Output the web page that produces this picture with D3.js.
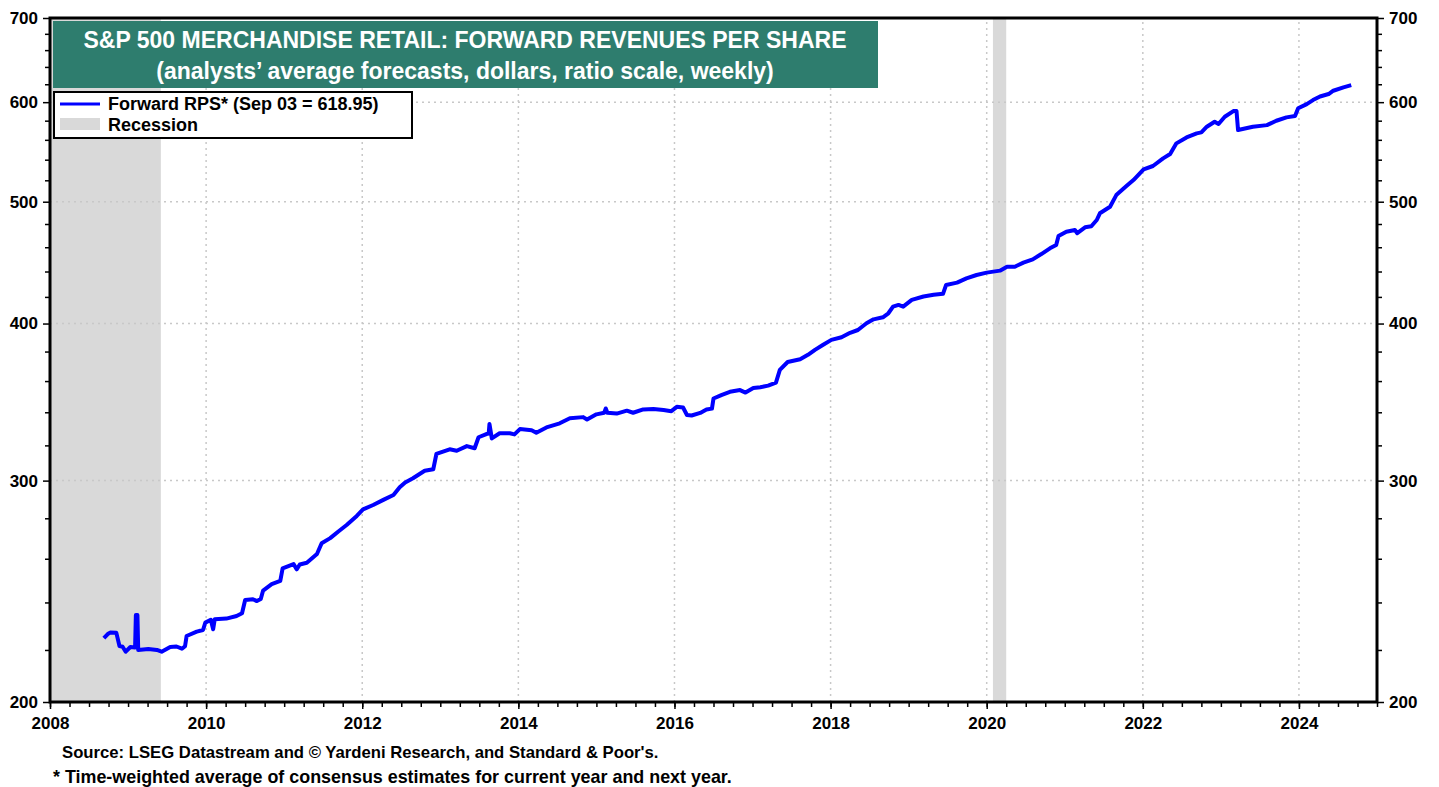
<!DOCTYPE html>
<html>
<head>
<meta charset="utf-8">
<script src="https://cdn.jsdelivr.net/npm/d3@7"></script>
<style>
  body { margin: 0; background: #fff; }
  svg text { font-family: "Liberation Sans", Arial, sans-serif; font-weight: bold; }
</style>
</head>
<body>
<div id="chart"></div>
<script>
// weekly series (decimal year, dollars)
const years = [2008.69,2008.74,2008.77,2008.85,2008.89,2008.93,2008.97,2009.03,2009.09,2009.10,2009.12,2009.13,2009.26,2009.37,2009.43,2009.54,2009.62,2009.69,2009.73,2009.75,2009.88,2009.96,2009.99,2010.06,2010.09,2010.11,2010.26,2010.39,2010.46,2010.50,2010.60,2010.65,2010.70,2010.73,2010.84,2010.95,2010.98,2011.12,2011.16,2011.20,2011.29,2011.42,2011.48,2011.59,2011.69,2011.80,2011.93,2012.01,2012.14,2012.27,2012.40,2012.48,2012.55,2012.65,2012.80,2012.91,2012.95,2013.12,2013.21,2013.34,2013.44,2013.49,2013.59,2013.62,2013.63,2013.66,2013.76,2013.89,2013.95,2014.02,2014.17,2014.23,2014.36,2014.53,2014.66,2014.83,2014.88,2015.00,2015.10,2015.12,2015.14,2015.26,2015.39,2015.47,2015.60,2015.73,2015.86,2015.96,2016.03,2016.11,2016.16,2016.22,2016.33,2016.41,2016.48,2016.50,2016.60,2016.71,2016.84,2016.91,2017.01,2017.10,2017.20,2017.30,2017.35,2017.45,2017.61,2017.71,2017.80,2017.90,2018.01,2018.14,2018.25,2018.35,2018.46,2018.55,2018.67,2018.74,2018.80,2018.87,2018.93,2019.04,2019.19,2019.32,2019.44,2019.48,2019.62,2019.74,2019.87,2020.00,2020.17,2020.26,2020.36,2020.47,2020.59,2020.70,2020.81,2020.89,2020.92,2021.02,2021.13,2021.16,2021.26,2021.34,2021.41,2021.45,2021.58,2021.66,2021.79,2021.88,2022.01,2022.13,2022.26,2022.35,2022.43,2022.56,2022.69,2022.75,2022.82,2022.92,2022.97,2023.05,2023.16,2023.20,2023.22,2023.41,2023.59,2023.71,2023.84,2023.95,2023.99,2024.10,2024.18,2024.27,2024.38,2024.44,2024.57,2024.67];
const rps = [224.8,226.5,227.1,227.0,221.6,221.3,219.3,221.2,221.0,234.5,234.5,220.0,220.4,220.0,219.3,221.2,221.4,220.5,221.5,225.7,227.5,228.2,231.3,232.5,228.5,232.7,233.0,234.1,235.3,241.1,241.4,240.6,241.5,245.3,248.2,249.7,255.5,257.5,255.0,257.3,258.1,262.3,267.5,270.0,273.2,276.6,281.2,284.6,286.9,289.6,292.2,296.4,299.0,301.3,305.5,306.3,315.0,317.7,316.9,319.6,318.3,324.8,326.7,327.0,332.8,324.1,327.2,327.2,326.5,329.7,329.0,327.5,330.7,333.2,336.3,337.0,335.5,338.7,339.7,342.4,339.7,339.2,341.0,339.7,341.8,342.0,341.4,340.7,343.4,343.0,338.3,338.0,339.6,341.7,342.3,348.7,350.9,353.0,354.1,352.5,355.4,356.0,357.0,359.0,367.4,372.8,374.7,377.7,381.2,384.6,388.2,390.1,393.3,395.3,400.2,403.1,404.6,407.6,412.6,413.9,412.6,417.7,420.3,421.6,422.4,429.3,431.1,434.5,437.2,439.1,440.7,443.9,443.9,447.2,449.9,454.3,459.1,461.9,469.5,473.3,474.7,472.0,477.1,478.0,483.5,489.5,495.4,506.1,514.5,520.2,530.5,533.8,541.3,545.6,556.4,562.5,566.7,567.7,573.6,578.9,576.5,584.2,590.3,590.5,570.1,573.6,575.3,579.9,583.5,584.9,593.3,597.9,602.3,606.3,609.0,612.7,616.5,618.95];

const recessionStart = [2008.0, 2020.08];
const recessionEnd = [2009.42, 2020.25];

const yMajor = [200, 300, 400, 500, 600, 700];
const xMajor = [2008, 2010, 2012, 2014, 2016, 2018, 2020, 2022, 2024];

const titleLines = ["S&P 500 MERCHANDISE RETAIL: FORWARD REVENUES PER SHARE",
  "(analysts\u2019 average forecasts, dollars, ratio scale, weekly)"];
const legendLabels = ["Forward RPS* (Sep 03 = 618.95)", "Recession"];
const footnotes = ["Source: LSEG Datastream and \u00a9 Yardeni Research, and Standard & Poor's.",
  "* Time-weighted average of consensus estimates for current year and next year."];

const W = 1439, H = 787;
const margin = {top: 18, right: 62, bottom: 85, left: 50};

const svg = d3.select("#chart").append("svg")
    .attr("width", W).attr("height", H);

const x = d3.scaleLinear().domain([2008, 2025]).range([margin.left, W - margin.right]);
const y = d3.scaleLog().domain([200, 700]).range([H - margin.bottom, margin.top]);

const data = years.map((d, i) => ({t: d, v: rps[i]}));

// recession bands
svg.append("g").selectAll("rect")
    .data(recessionStart).enter().append("rect")
    .attr("x", d => x(d))
    .attr("y", y(700))
    .attr("width", (d, i) => x(recessionEnd[i]) - x(d))
    .attr("height", y(200) - y(700))
    .attr("fill", "#d9d9d9");

// grid
svg.append("g").selectAll("line")
    .data(yMajor.filter(d => d > 200 && d < 700)).enter().append("line")
    .attr("x1", x(2008)).attr("x2", x(2025))
    .attr("y1", d => y(d)).attr("y2", d => y(d))
    .attr("stroke", "#c8c8c8").attr("stroke-width", 1.5).attr("stroke-dasharray", "2,4");

svg.append("g").selectAll("line")
    .data(xMajor.filter(d => d > 2008)).enter().append("line")
    .attr("x1", d => x(d)).attr("x2", d => x(d))
    .attr("y1", y(200)).attr("y2", y(700))
    .attr("stroke", "#c8c8c8").attr("stroke-width", 1.5).attr("stroke-dasharray", "2,4");

// the line
svg.append("path")
    .datum(data)
    .attr("fill", "none")
    .attr("stroke", "#0000ff")
    .attr("stroke-width", 4)
    .attr("stroke-linejoin", "round")
    .attr("d", d3.line().x(d => x(d.t)).y(d => y(d.v)));

// axes
const yMinor = d3.range(220, 700, 20).filter(d => d % 100 !== 0);

function styleAxis(g) {
  g.select(".domain").remove();
  g.selectAll("line").attr("stroke", "#000").attr("stroke-width", 1.5);
  g.selectAll("text").attr("fill", "#000").style("font-size", "17px");
}

svg.append("g").attr("transform", `translate(${x(2008)},0)`)
    .call(d3.axisLeft(y).tickValues(yMajor).tickFormat(d3.format("d")).tickSize(7).tickPadding(5))
    .call(styleAxis);
svg.append("g").attr("transform", `translate(${x(2008)},0)`)
    .call(d3.axisLeft(y).tickValues(yMinor).tickFormat("").tickSize(5))
    .call(styleAxis);
svg.append("g").attr("transform", `translate(${x(2025)},0)`)
    .call(d3.axisRight(y).tickValues(yMajor).tickFormat(d3.format("d")).tickSize(7).tickPadding(5))
    .call(styleAxis);
svg.append("g").attr("transform", `translate(${x(2025)},0)`)
    .call(d3.axisRight(y).tickValues(yMinor).tickFormat("").tickSize(5))
    .call(styleAxis);

svg.append("g").attr("transform", `translate(0,${y(200)})`)
    .call(d3.axisBottom(x).tickValues(xMajor).tickFormat(d3.format("d")).tickSize(7).tickPadding(8))
    .call(styleAxis);
svg.append("g").attr("transform", `translate(0,${y(200)})`)
    .call(d3.axisBottom(x).tickValues(d3.range(2008, 2025.01, 0.25)).tickFormat("").tickSize(5))
    .call(styleAxis);

// frame
svg.append("rect")
    .attr("x", x(2008)).attr("y", y(700))
    .attr("width", x(2025) - x(2008)).attr("height", y(200) - y(700))
    .attr("fill", "none").attr("stroke", "#000").attr("stroke-width", 3);

// title box
svg.append("rect")
    .attr("x", 53).attr("y", 21).attr("width", 825).attr("height", 67)
    .attr("fill", "#2e7d6e");
svg.selectAll(".title").data(titleLines).enter().append("text")
    .attr("class", "title")
    .attr("x", 465).attr("y", (d, i) => 48 + i * 31)
    .attr("text-anchor", "middle")
    .attr("fill", "#fff")
    .style("font-size", "23px")
    .text(d => d);

// legend
svg.append("rect")
    .attr("x", 54).attr("y", 92).attr("width", 358).attr("height", 46)
    .attr("fill", "#fff").attr("stroke", "#000").attr("stroke-width", 2);
svg.append("line")
    .attr("x1", 60).attr("x2", 100).attr("y1", 104).attr("y2", 104)
    .attr("stroke", "#0000ff").attr("stroke-width", 3);
svg.append("rect")
    .attr("x", 60).attr("y", 118).attr("width", 40).attr("height", 12)
    .attr("fill", "#d9d9d9");
svg.selectAll(".leg").data(legendLabels).enter().append("text")
    .attr("class", "leg")
    .attr("x", 108).attr("y", (d, i) => 110 + i * 21)
    .attr("fill", "#000")
    .style("font-size", "18px")
    .text(d => d);

// footnotes
svg.selectAll(".foot").data(footnotes).enter().append("text")
    .attr("class", "foot")
    .attr("x", (d, i) => i === 0 ? 62 : 53)
    .attr("y", (d, i) => 758 + i * 25)
    .attr("fill", "#000")
    .style("font-size", (d, i) => i === 0 ? "16.7px" : "17.9px")
    .text(d => d);
</script>
</body>
</html>
